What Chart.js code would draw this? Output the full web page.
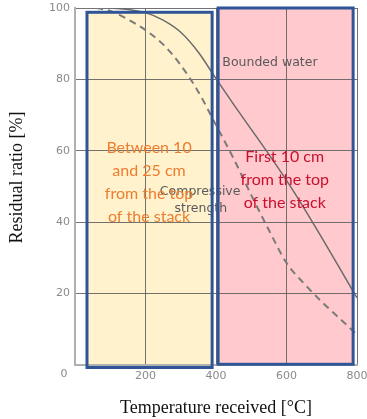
<!DOCTYPE html>
<html>
<head>
<meta charset="utf-8">
<script src="https://cdn.jsdelivr.net/npm/chart.js@4.4.1/dist/chart.umd.min.js"></script>
<style>
  html, body { margin: 0; padding: 0; background: #ffffff; }
  canvas { display: block; }
</style>
</head>
<body>
<canvas id="chart" width="367" height="419"></canvas>
<script>
// Bounded water curve: temperature (°C) vs residual ratio (%)
const waterTemps = [100, 150, 200, 250, 300, 350, 400, 450, 500, 550, 600, 650, 700, 750, 800];
const waterRatio = [100, 99.6, 98.7, 96.6, 93.2, 87.6, 80.2, 73.0, 66.0, 59.0, 51.7, 43.9, 35.7, 27.3, 18.8];

// Compressive strength curve (dashed)
const strengthTemps = [60, 100, 150, 200, 250, 300, 350, 400, 450, 500, 550, 600, 650, 700, 750, 800];
const strengthRatio = [100, 99.2, 96.8, 93.8, 89.8, 84.0, 76.5, 67.2, 57.8, 47.6, 37.8, 28.6, 22.8, 17.7, 13.1, 8.5];

// Axis ticks
const tempTicks = [0, 200, 400, 600, 800];
const ratioTicks = [0, 20, 40, 60, 80, 100];

// Depth zones drawn over the plot (temperature span, ratio span)
const zoneTempFrom = [34, 406];
const zoneTempTo = [389, 789];
const zoneRatioLow = [-0.7, 0.2];
const zoneRatioHigh = [98.8, 100];
const zoneText = [
  ['Between 10', 'and 25 cm', 'from the top', 'of the stack'],
  ['First 10 cm', 'from the top', 'of the stack']
];
const zoneTextTemp = [210, 595];
const zoneTextRatio = [60.7, 58.2];

// Curve captions
const curveCaption = ['Bounded water', 'Compressive', 'strength'];
const curveCaptionTemp = [553, 355, 357];
const curveCaptionRatio = [84.6, 48.4, 43.9];

const yTitle = 'Residual ratio [%]';

const toPoints = (xs, ys) => xs.map((x, i) => ({ x: x, y: ys[i] }));

const zoneFill = ['#FFF2CC', '#FFC9CE'];
const zoneTextColor = ['#ED7D31', '#C8102E'];

const zonesPlugin = {
  id: 'zones',
  beforeDraw(chart) {
    const { ctx, scales: { x, y } } = chart;
    ctx.save();
    zoneTempFrom.forEach((t, i) => {
      const x0 = x.getPixelForValue(t), x1 = x.getPixelForValue(zoneTempTo[i]);
      const y0 = y.getPixelForValue(zoneRatioHigh[i]), y1 = y.getPixelForValue(zoneRatioLow[i]);
      ctx.fillStyle = zoneFill[i];
      ctx.fillRect(x0, y0, x1 - x0, y1 - y0);
    });
    ctx.restore();
  },
  afterDraw(chart) {
    const { ctx, scales: { x, y } } = chart;
    ctx.save();
    // curve captions
    ctx.font = '12.5px "DejaVu Sans"';
    ctx.fillStyle = '#5a5a5a';
    ctx.textAlign = 'center';
    ctx.textBaseline = 'middle';
    curveCaption.forEach((s, i) => {
      ctx.fillText(s, x.getPixelForValue(curveCaptionTemp[i]), y.getPixelForValue(curveCaptionRatio[i]));
    });
    // zone borders
    ctx.strokeStyle = '#2F5597';
    ctx.lineWidth = 3;
    zoneTempFrom.forEach((t, i) => {
      const x0 = x.getPixelForValue(t), x1 = x.getPixelForValue(zoneTempTo[i]);
      const y0 = y.getPixelForValue(zoneRatioHigh[i]), y1 = y.getPixelForValue(zoneRatioLow[i]);
      ctx.strokeRect(x0, y0, x1 - x0, y1 - y0);
    });
    // zone descriptions
    ctx.font = '16px Lato';
    zoneText.forEach((lines, i) => {
      ctx.fillStyle = zoneTextColor[i];
      const cx = x.getPixelForValue(zoneTextTemp[i]);
      const cy = y.getPixelForValue(zoneTextRatio[i]);
      lines.forEach((s, k) => ctx.fillText(s, cx, cy + k * 22.7));
    });
    // shared origin label
    ctx.font = '11px "DejaVu Sans"';
    ctx.fillStyle = '#8a8a8a';
    ctx.fillText('0', x.left - 11, y.bottom + 9);
    // vertical axis title, set slightly above the axis midpoint
    ctx.font = '18px "Liberation Serif"';
    ctx.fillStyle = '#111111';
    ctx.translate(17, y.getPixelForValue(52.5));
    ctx.rotate(-Math.PI / 2);
    ctx.fillText(yTitle, 0, 0);
    ctx.restore();
  }
};

new Chart(document.getElementById('chart'), {
  type: 'line',
  data: {
    datasets: [
      {
        label: 'Bounded water',
        data: toPoints(waterTemps, waterRatio),
        borderColor: '#6b6b6b',
        borderWidth: 1.5,
        pointRadius: 0,
        cubicInterpolationMode: 'monotone',
        fill: false
      },
      {
        label: 'Compressive strength',
        data: toPoints(strengthTemps, strengthRatio),
        borderColor: '#7a7a7a',
        borderWidth: 2,
        borderDash: [7, 5],
        pointRadius: 0,
        cubicInterpolationMode: 'monotone',
        fill: false
      }
    ]
  },
  options: {
    responsive: false,
    animation: false,
    devicePixelRatio: 1,
    layout: { padding: { left: 0, right: 0, top: 0, bottom: 0 } },
    plugins: { legend: { display: false }, tooltip: { enabled: false } },
    scales: {
      x: {
        type: 'linear',
        min: 0,
        max: 800,
        afterBuildTicks: s => { s.ticks = tempTicks.map(v => ({ value: v })); },
        afterFit: s => { s.height = 54; s.paddingLeft = 0; s.paddingRight = 10; },
        ticks: {
          font: { family: 'DejaVu Sans', size: 11 },
          color: '#8a8a8a',
          padding: 5,
          maxRotation: 0,
          callback: v => (v === 0 ? '' : String(v))
        },
        grid: { color: 'rgba(90,90,90,0.85)', lineWidth: 1, drawTicks: false },
        border: { color: '#b0b0b0', width: 2 },
        title: {
          display: true,
          text: 'Temperature received [°C]',
          font: { family: 'Liberation Serif', size: 18 },
          color: '#111111',
          padding: { top: 0, bottom: 0 }
        }
      },
      y: {
        min: 0,
        max: 100,
        afterBuildTicks: s => { s.ticks = ratioTicks.map(v => ({ value: v })); },
        afterFit: s => { s.width = 75; s.paddingTop = 8; s.paddingBottom = 0; },
        ticks: {
          font: { family: 'DejaVu Sans', size: 11 },
          color: '#8a8a8a',
          padding: 5,
          callback: v => (v === 0 ? '' : String(v))
        },
        grid: { color: 'rgba(90,90,90,0.85)', lineWidth: 1, drawTicks: false },
        border: { color: '#b0b0b0', width: 2 },
        title: { display: false }
      }
    }
  },
  plugins: [zonesPlugin]
});
</script>
</body>
</html>
